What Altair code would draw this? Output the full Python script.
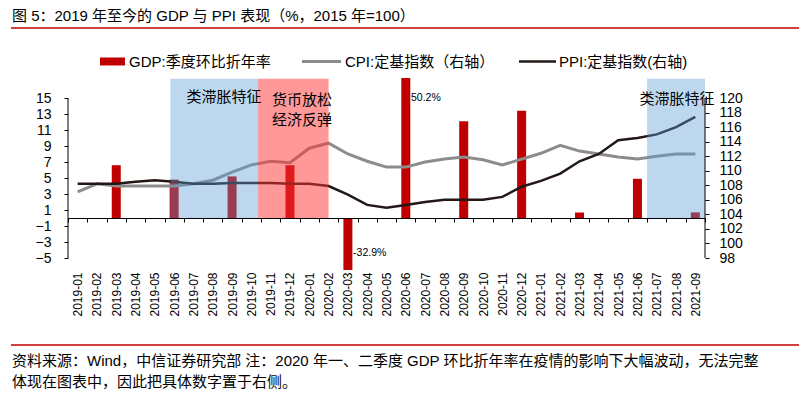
import altair as alt
import pandas as pd

FONT = "Liberation Sans, Noto Sans CJK SC, sans-serif"

months = [
    "2019-01", "2019-02", "2019-03", "2019-04", "2019-05", "2019-06",
    "2019-07", "2019-08", "2019-09", "2019-10", "2019-11", "2019-12",
    "2020-01", "2020-02", "2020-03", "2020-04", "2020-05", "2020-06",
    "2020-07", "2020-08", "2020-09", "2020-10", "2020-11", "2020-12",
    "2021-01", "2021-02", "2021-03", "2021-04", "2021-05", "2021-06",
    "2021-07", "2021-08", "2021-09",
]

gdp_months = ["2019-03", "2019-06", "2019-09", "2019-12", "2020-03", "2020-06",
              "2020-09", "2020-12", "2021-03", "2021-06", "2021-09"]
gdp_values = [6.6, 4.8, 5.2, 6.6, -32.9, 50.2, 12.1, 13.4, 0.7, 4.9, 0.7]

cpi_values = [107.1, 108.2, 107.9, 107.9, 107.9, 107.9, 108.2, 108.7, 109.8, 110.8, 111.3, 111.1,
              113.1, 113.8, 112.3, 111.3, 110.5, 110.5, 111.2, 111.6, 111.9, 111.5, 110.8, 111.6,
              112.4, 113.5, 112.7, 112.3, 111.9, 111.6, 112.0, 112.3, 112.3]
ppi_values = [108.2, 108.2, 108.2, 108.5, 108.7, 108.5, 108.2, 108.2, 108.3, 108.3, 108.3, 108.2,
              108.2, 107.9, 106.7, 105.3, 104.9, 105.3, 105.7, 106.0, 106.0, 106.0, 106.4, 107.8,
              108.6, 109.6, 111.3, 112.3, 114.2, 114.5, 115.0, 116.0, 117.4]

series_names = ["GDP:季度环比折年率", "CPI:定基指数（右轴）", "PPI:定基指数(右轴)"]
series_colors = ["#C00000", "#8C8C8C", "#231815"]

left_ticks = [-5, -3, -1, 1, 3, 5, 7, 9, 11, 13, 15]
right_ticks = [98, 100, 102, 104, 106, 108, 110, 112, 114, 116, 118, 120]

region_kinds = ["类滞胀", "货币放松"]
region_colors = ["#5A9BD4", "#FF3333"]
region_kind = ["类滞胀", "货币放松", "类滞胀"]
region_start = [5.3, 9.85, 30.0]
region_end = [9.85, 13.5, 33.0]
region_top = [17.4, 17.4, 17.4]

ann_text = ["类滞胀特征", "货币放松", "经济反弹", "类滞胀特征"]
ann_x = [8.08, 12.12, 12.12, 31.55]
ann_y = [15.1, 14.75, 12.25, 14.9]

off_text = ["50.2%", "-32.9%"]
off_x = [17.77, 14.77]
off_y = [15.0, -4.4]

title_text = "图 5：2019 年至今的 GDP 与 PPI 表现（%，2015 年=100）"
note_lines = [
    "资料来源：Wind，中信证券研究部 注：2020 年一、二季度 GDP 环比折年率在疫情的影响下大幅波动，无法完整",
    "体现在图表中，因此把具体数字置于右侧。",
]

W, H = 637, 192
L_DOM = [-6.5, 17.5]
R_DOM = [96.35, 122.75]

gdp_df = pd.DataFrame({"month": gdp_months, "value": gdp_values})
line_df = pd.DataFrame({
    "month": months + months,
    "value": cpi_values + ppi_values,
    "series": [series_names[1]] * len(months) + [series_names[2]] * len(months),
})
reg_df = pd.DataFrame({"kind": region_kind, "start": region_start, "end": region_end,
                       "base": [0] * 3, "top": region_top})
ann_df = pd.DataFrame({"text": ann_text, "x": ann_x, "y": ann_y})
off_df = pd.DataFrame({"text": off_text, "x": off_x, "y": off_y})
axis_df = pd.DataFrame({"lo": [left_ticks[0]], "hi": [left_ticks[-1]]})

one = alt.Data(values=[{}])

# ---- group A: GDP bars on left axis
A = alt.Chart(gdp_df).mark_bar(size=9, clip=True, color=series_colors[0]).encode(
    x=alt.X("month:N", sort=months,
            scale=alt.Scale(type="band", domain=months, paddingInner=0, paddingOuter=0),
            axis=alt.Axis(orient="bottom", offset=-52, tickBand="extent", tickSize=4,
                          labelAngle=270, labelAlign="right", labelBaseline="middle",
                          labelPadding=50, labelFontSize=12, labelOverlap=False,
                          domainColor="black", tickColor="black", zindex=1, title=None)),
    y=alt.Y("value:Q", scale=alt.Scale(domain=L_DOM, nice=False),
            axis=alt.Axis(orient="left", values=left_ticks, tickCount=len(left_ticks),
                          domain=False, tickSize=4,
                          labelFontSize=14, labelPadding=13, labelOverlap=False,
                          labelFlush=False, grid=False, title=None)),
    y2=alt.datum(0),
)

# ---- group B: CPI / PPI lines on right axis
B = alt.Chart(line_df).mark_line().encode(
    x=alt.X("month:N", sort=months,
            scale=alt.Scale(type="point", domain=months, padding=0.5), axis=None),
    y=alt.Y("value:Q", scale=alt.Scale(domain=R_DOM, nice=False, zero=False),
            axis=alt.Axis(orient="right", values=right_ticks, tickCount=len(right_ticks),
                          domain=False, tickSize=4,
                          labelFontSize=14, labelPadding=10, labelOverlap=False,
                          labelFlush=False, grid=False, title=None)),
    color=alt.Color("series:N", scale=alt.Scale(domain=series_names[1:], range=series_colors[1:]),
                    legend=None),
    strokeWidth=alt.StrokeWidth("series:N", scale=alt.Scale(domain=series_names[1:], range=[3, 2.5]),
                                legend=None),
)

# ---- group C: shaded periods, axis lines, annotations, legend, title, notes
xq = alt.Scale(domain=[0, len(months)], nice=False, zero=False)
yq = alt.Scale(domain=L_DOM, nice=False, zero=False)
rects = alt.Chart(reg_df).mark_rect().encode(
    x=alt.X("start:Q", scale=xq, axis=None),
    x2="end:Q",
    y=alt.Y("base:Q", scale=yq, axis=None),
    y2="top:Q",
    fill=alt.Fill("kind:N", scale=alt.Scale(domain=region_kinds, range=region_colors), legend=None),
    fillOpacity=alt.FillOpacity("kind:N", scale=alt.Scale(domain=region_kinds, range=[0.4, 0.5]),
                                legend=None),
)
# vertical axis lines (left and right axes span the same plotted height)
left_line = alt.Chart(axis_df).mark_rule(color="black").encode(
    x=alt.value(0), y=alt.Y("lo:Q", scale=yq, axis=None), y2="hi:Q")
right_line = alt.Chart(axis_df).mark_rule(color="black").encode(
    x=alt.value(W), y=alt.Y("lo:Q", scale=yq, axis=None), y2="hi:Q")

ann = alt.Chart(ann_df).mark_text(font=FONT, fontSize=15, color="black", align="center",
                                  baseline="middle").encode(
    x=alt.X("x:Q", scale=xq, axis=None), y=alt.Y("y:Q", scale=yq, axis=None), text="text:N")
offl = alt.Chart(off_df).mark_text(font=FONT, fontSize=10.5, color="black", align="left",
                                   baseline="middle").encode(
    x=alt.X("x:Q", scale=xq, axis=None), y=alt.Y("y:Q", scale=yq, axis=None), text="text:N")

def txt(s, x, y, size=15):
    return alt.Chart(one).mark_text(font=FONT, fontSize=size, color="black", align="left",
                                    baseline="middle").encode(
        x=alt.value(x), y=alt.value(y), text=alt.value(s))

leg = [
    alt.Chart(one).mark_rect(color=series_colors[0]).encode(
        x=alt.value(32), x2=alt.value(57), y=alt.value(-20.5), y2=alt.value(-12.5)),
    txt(series_names[0], 61, -16.5),
    alt.Chart(one).mark_rule(color=series_colors[1], strokeWidth=3).encode(
        x=alt.value(234), x2=alt.value(273), y=alt.value(-16.5)),
    txt(series_names[1], 277, -16.5),
    alt.Chart(one).mark_rule(color=series_colors[2], strokeWidth=2.5).encode(
        x=alt.value(451), x2=alt.value(488), y=alt.value(-16.5)),
    txt(series_names[2], 491, -16.5),
]
deco = [
    txt(title_text, -56, -62),
    alt.Chart(one).mark_rule(color="#C00000", strokeWidth=1.5).encode(
        x=alt.value(-57), x2=alt.value(731), y=alt.value(-50)),
    alt.Chart(one).mark_rule(color="#C00000", strokeWidth=1.5).encode(
        x=alt.value(-57), x2=alt.value(731), y=alt.value(267)),
    txt(note_lines[0], -56, 283),
    txt(note_lines[1], -56, 304),
]
C = alt.layer(rects, left_line, right_line, ann, offl, *leg, *deco)

chart = alt.layer(A, B, C).resolve_scale(
    x="independent", y="independent", color="independent",
    fill="independent", fillOpacity="independent", strokeWidth="independent",
).properties(
    width=W, height=H,
    autosize=alt.AutoSizeParams(type="none"),
    padding={"left": 60, "top": 70, "right": 94, "bottom": 121},
).configure_view(stroke=None).configure_axis(
    labelFont=FONT, labelColor="black", tickColor="black", domainColor="black", grid=False
)

chart.save("out.html", embed_options={"renderer": "svg", "actions": False})
